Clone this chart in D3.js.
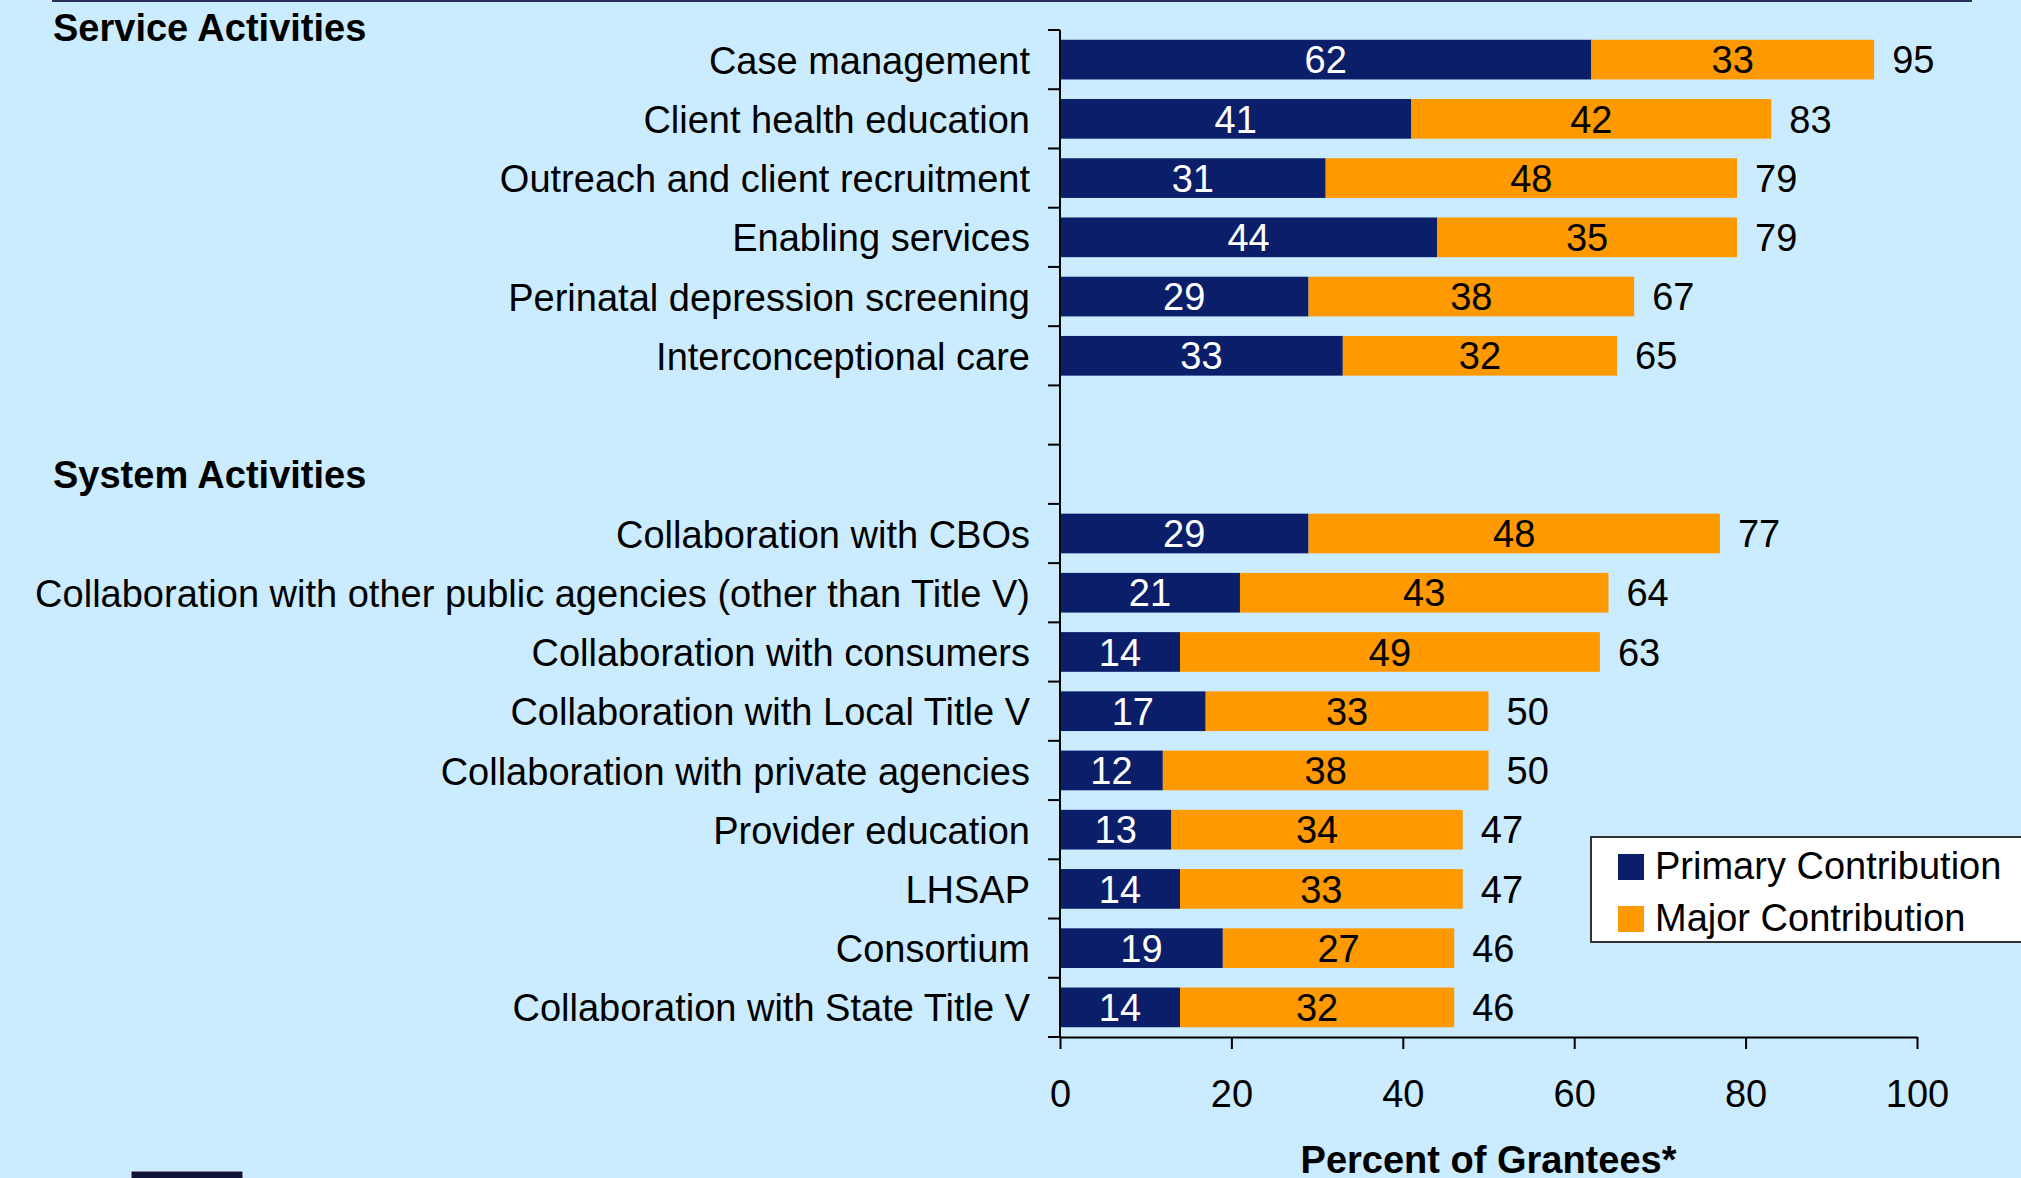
<!DOCTYPE html>
<html>
<head>
<meta charset="utf-8">
<script src="https://cdn.jsdelivr.net/npm/d3@7/dist/d3.min.js"></script>
<style>
  html, body { margin: 0; padding: 0; background: #cbebfe; overflow: hidden; }
  svg text { font-family: Arial, "Liberation Sans", sans-serif; }
</style>
</head>
<body>
<div id="my_dataviz"></div>
<script>
// data
var serviceCats = ["Case management", "Client health education", "Outreach and client recruitment",
                   "Enabling services", "Perinatal depression screening", "Interconceptional care"];
var servicePrimary = [62, 41, 31, 44, 29, 33];
var serviceMajor   = [33, 42, 48, 35, 38, 32];

var systemCats = ["Collaboration with CBOs", "Collaboration with other public agencies (other than Title V)",
                  "Collaboration with consumers", "Collaboration with Local Title V",
                  "Collaboration with private agencies", "Provider education", "LHSAP",
                  "Consortium", "Collaboration with State Title V"];
var systemPrimary = [29, 21, 14, 17, 12, 13, 14, 19, 14];
var systemMajor   = [48, 43, 49, 33, 38, 34, 33, 27, 32];

var seriesNames = ["Primary Contribution", "Major Contribution"];
var xTicks = [0, 20, 40, 60, 80, 100];

var navy = "#0a1e69", orange = "#ff9900";

// blank rows between the two groups (second one holds the heading)
var gapKeys = ["_gap1", "_gap2"];
var rows = [];
serviceCats.forEach(function(c, i) { rows.push({cat: c, p: servicePrimary[i], m: serviceMajor[i]}); });
systemCats.forEach(function(c, i) { rows.push({cat: c, p: systemPrimary[i], m: systemMajor[i]}); });

var width = 2021, height = 1178;
var svg = d3.select("#my_dataviz").append("svg")
    .attr("width", width)
    .attr("height", height);

svg.append("rect").attr("width", width).attr("height", height).attr("fill", "#cbebfe");

// thin rule across the top
svg.append("rect").attr("x", 52).attr("y", 0).attr("width", 1920).attr("height", 2).attr("fill", "#2a2f5e");

var xScale = d3.scaleLinear().domain([0, 100]).range([1060, 1917]);
var yScale = d3.scaleBand()
    .domain(serviceCats.concat(gapKeys, systemCats))
    .range([30, 1037])
    .paddingInner(0.33)
    .paddingOuter(0.165);

var step = yScale.step();
var y0 = yScale.range()[0];

// bars
var g = svg.append("g");
var rowG = g.selectAll("g.row").data(rows).enter().append("g")
    .attr("class", "row")
    .attr("transform", function(d) { return "translate(0," + yScale(d.cat) + ")"; });

rowG.append("rect")
    .attr("x", xScale(0))
    .attr("width", function(d) { return xScale(d.p) - xScale(0); })
    .attr("height", yScale.bandwidth())
    .attr("fill", navy);

rowG.append("rect")
    .attr("x", function(d) { return xScale(d.p); })
    .attr("width", function(d) { return xScale(d.p + d.m) - xScale(d.p); })
    .attr("height", yScale.bandwidth())
    .attr("fill", orange);

rowG.append("text")
    .attr("x", function(d) { return (xScale(0) + xScale(d.p)) / 2; })
    .attr("y", yScale.bandwidth() / 2)
    .attr("dy", "0.36em")
    .attr("text-anchor", "middle")
    .attr("font-size", 38)
    .attr("fill", "white")
    .text(function(d) { return d.p; });

rowG.append("text")
    .attr("x", function(d) { return (xScale(d.p) + xScale(d.p + d.m)) / 2; })
    .attr("y", yScale.bandwidth() / 2)
    .attr("dy", "0.36em")
    .attr("text-anchor", "middle")
    .attr("font-size", 38)
    .attr("fill", "black")
    .text(function(d) { return d.m; });

// totals
rowG.append("text")
    .attr("x", function(d) { return xScale(d.p + d.m) + 18; })
    .attr("y", yScale.bandwidth() / 2)
    .attr("dy", "0.36em")
    .attr("font-size", 38)
    .attr("fill", "black")
    .text(function(d) { return d.p + d.m; });

// y axis: labels only, ticks drawn at band boundaries like the original
var yAxisG = svg.append("g")
    .attr("transform", "translate(" + xScale(0) + ",0)")
    .call(d3.axisLeft(yScale).tickSize(0).tickPadding(30)
        .tickFormat(function(d) { return gapKeys.indexOf(d) >= 0 ? "" : d; }));
yAxisG.select(".domain").remove();
yAxisG.selectAll("text")
    .attr("font-size", 38)
    .attr("font-family", "Arial, 'Liberation Sans', sans-serif")
    .attr("fill", "black")
    .attr("dy", "0.37em");

var bounds = d3.range(yScale.domain().length + 1).map(function(i) { return y0 + i * step; });
svg.append("g").selectAll("line").data(bounds).enter().append("line")
    .attr("x1", xScale(0) - 12).attr("x2", xScale(0))
    .attr("y1", function(d) { return d; }).attr("y2", function(d) { return d; })
    .attr("stroke", "black").attr("stroke-width", 2);
svg.append("line")
    .attr("x1", xScale(0)).attr("x2", xScale(0))
    .attr("y1", y0).attr("y2", yScale.range()[1])
    .attr("stroke", "black").attr("stroke-width", 2);

// x axis
var xAxisG = svg.append("g")
    .attr("transform", "translate(0," + yScale.range()[1] + ")")
    .call(d3.axisBottom(xScale).tickValues(xTicks).tickSizeInner(12).tickSizeOuter(0).tickPadding(31));
xAxisG.select(".domain").attr("stroke-width", 2);
xAxisG.selectAll(".tick line").attr("stroke-width", 2);
xAxisG.selectAll("text")
    .attr("font-size", 38)
    .attr("font-family", "Arial, 'Liberation Sans', sans-serif")
    .attr("fill", "black");

svg.append("text")
    .attr("x", (xScale(0) + xScale(100)) / 2)
    .attr("y", 1173)
    .attr("text-anchor", "middle")
    .attr("font-size", 38)
    .attr("font-weight", "bold")
    .text("Percent of Grantees*");

// group headings
svg.append("text")
    .attr("x", 53).attr("y", 41)
    .attr("font-size", 38).attr("font-weight", "bold")
    .text("Service Activities");
svg.append("text")
    .attr("x", 53).attr("y", yScale(gapKeys[1]) + yScale.bandwidth() / 2)
    .attr("dy", "0.37em")
    .attr("font-size", 38).attr("font-weight", "bold")
    .text("System Activities");

// legend
var legend = svg.append("g").attr("transform", "translate(1591,837)");
legend.append("rect")
    .attr("width", 460).attr("height", 105)
    .attr("fill", "white").attr("stroke", "#333").attr("stroke-width", 2);
var li = legend.selectAll("g.item").data(seriesNames).enter().append("g")
    .attr("class", "item")
    .attr("transform", function(d, i) { return "translate(27," + (17 + i * 52) + ")"; });
li.append("rect").attr("width", 26).attr("height", 26)
    .attr("fill", function(d, i) { return i === 0 ? navy : orange; });
li.append("text").attr("x", 37).attr("y", 25)
    .attr("font-size", 38)
    .text(function(d) { return d; });

// small dark block bottom left
svg.append("rect").attr("x", 131).attr("y", 1171).attr("width", 112).attr("height", 10)
    .attr("fill", "#11133a").attr("stroke", "#e8eef8").attr("stroke-width", 1);
</script>
</body>
</html>
